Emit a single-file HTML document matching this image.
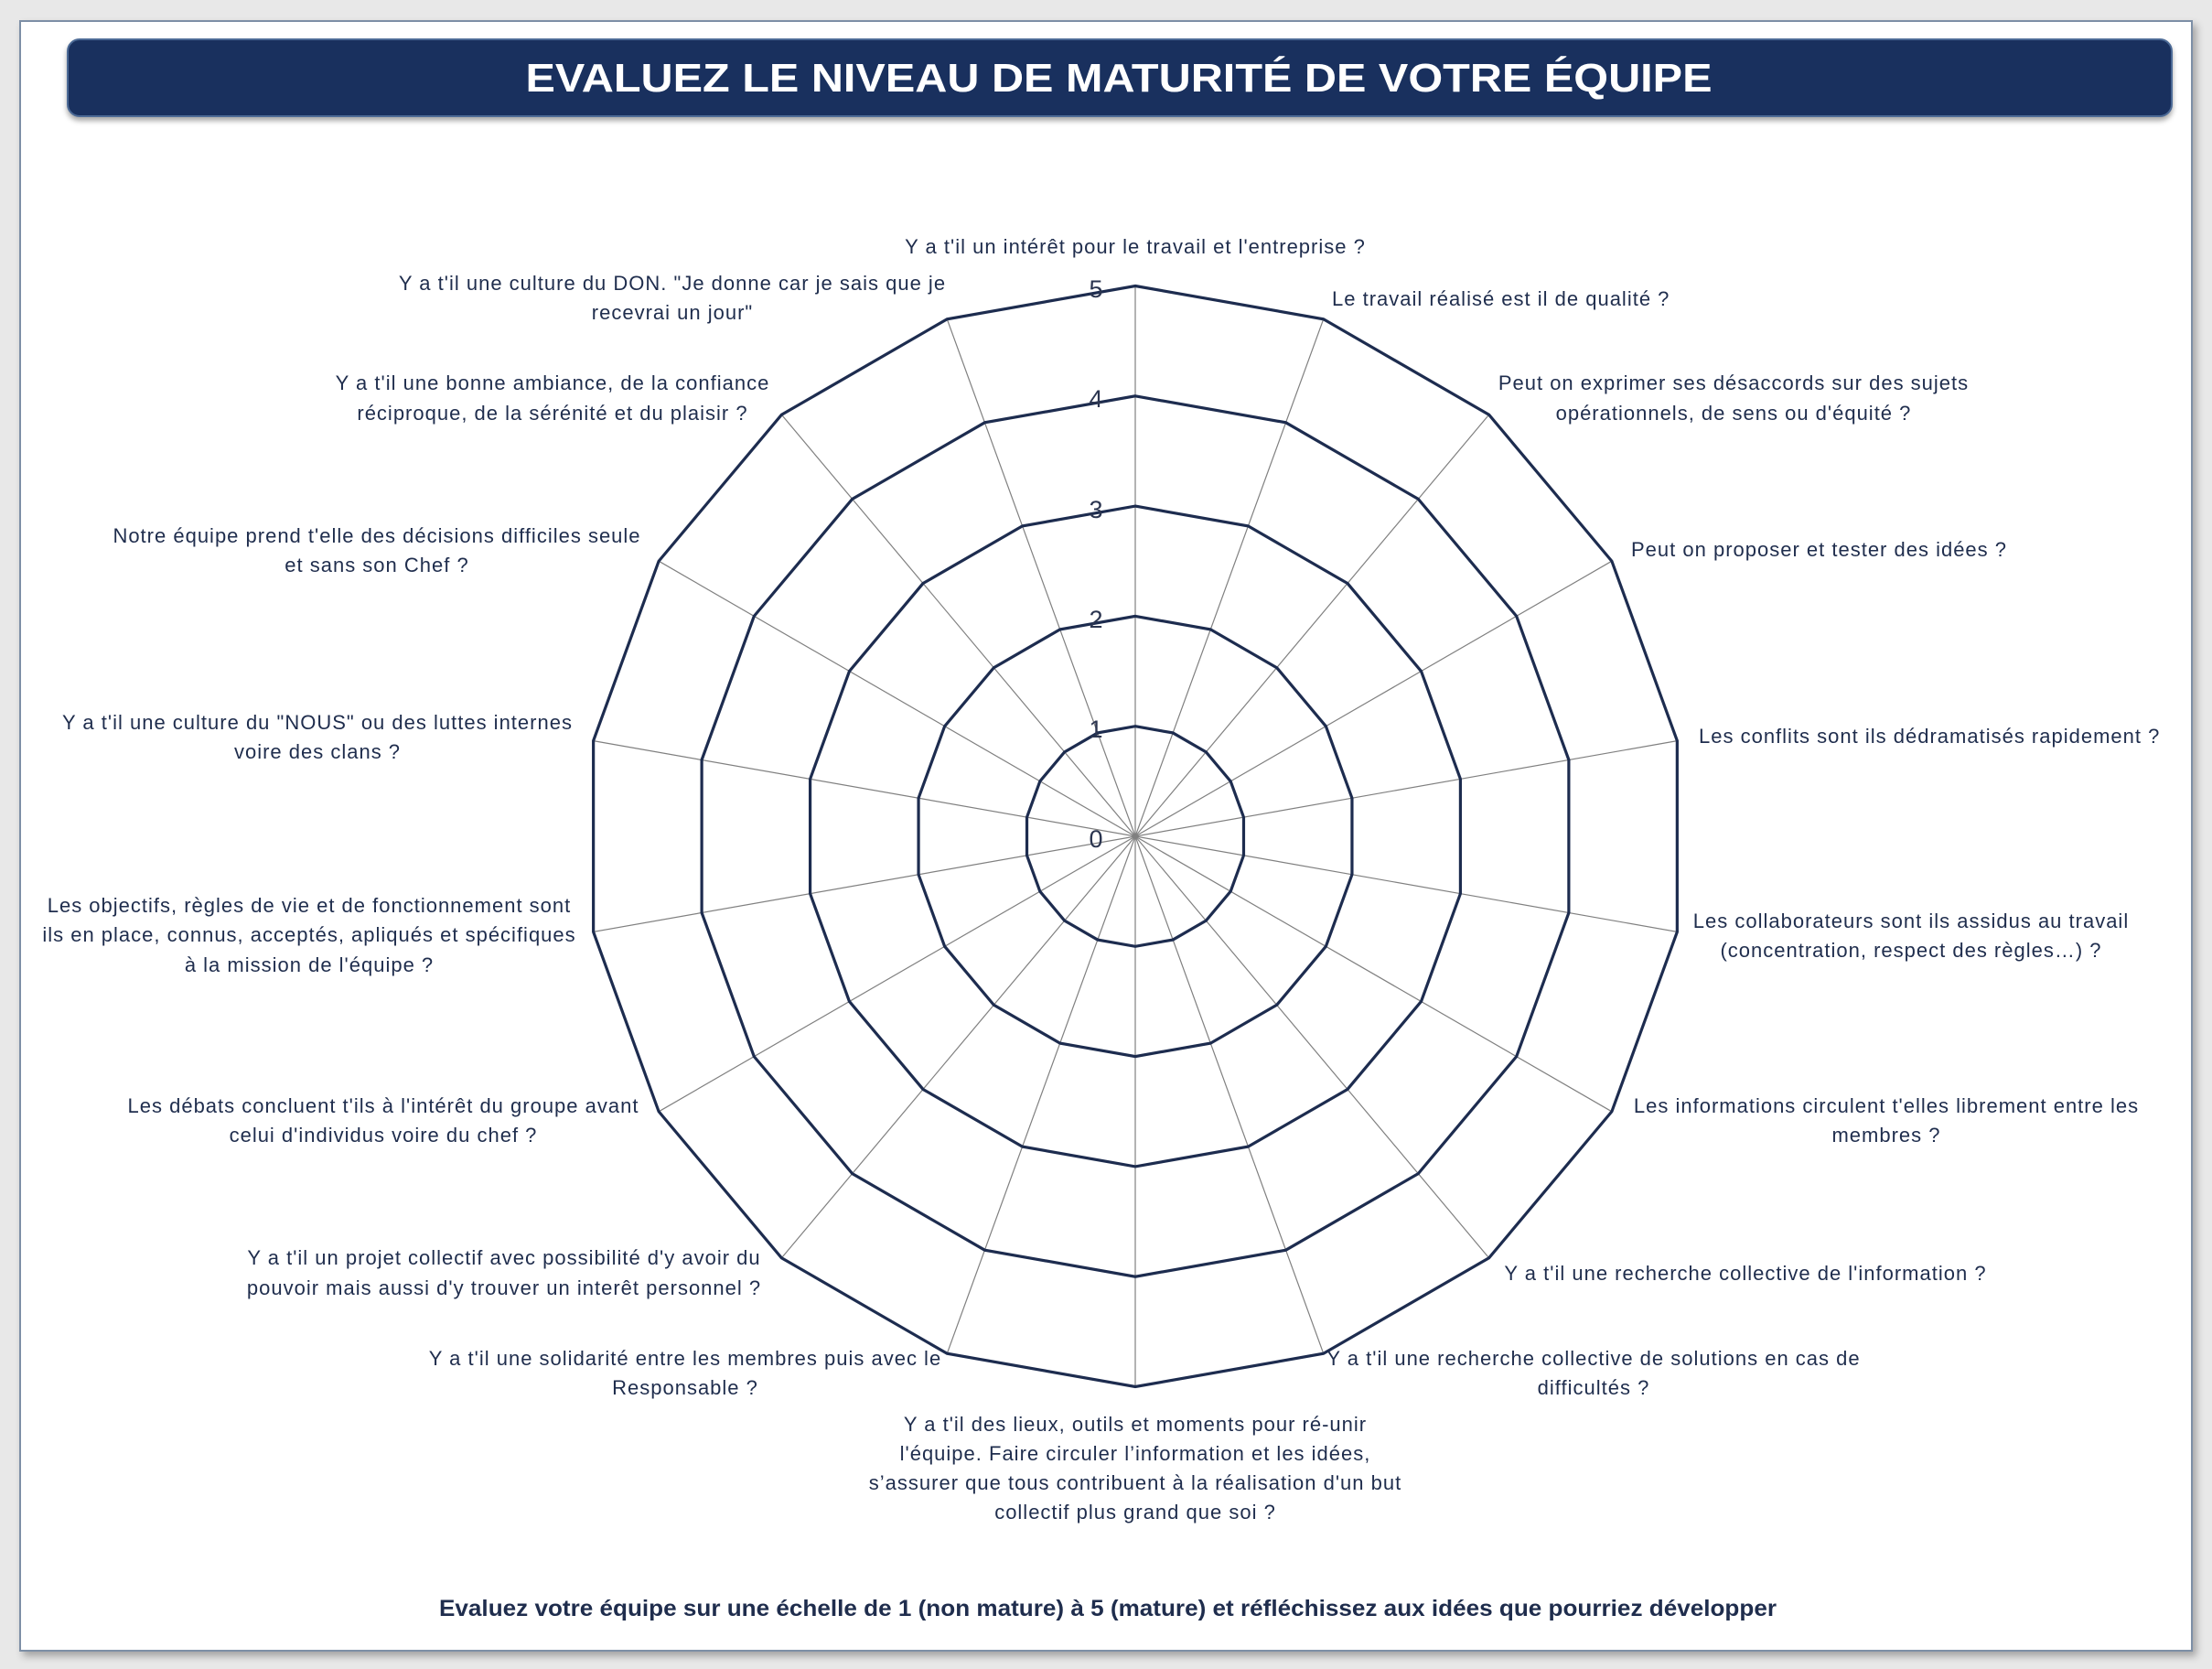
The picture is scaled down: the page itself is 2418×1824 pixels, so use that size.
<!DOCTYPE html>
<html><head><meta charset="utf-8"><style>
html,body{margin:0;padding:0;}
body{width:2418px;height:1824px;background:#e8e8e8;position:relative;overflow:hidden;font-family:"Liberation Sans",sans-serif;}
.page{position:absolute;left:21px;top:22px;width:2376px;height:1783px;background:#fff;border:2px solid #7d8fa6;box-sizing:border-box;box-shadow:4px 5px 8px rgba(0,0,0,0.3);}
.bar{position:absolute;left:73px;top:42px;width:2302px;height:86px;background:#19305e;border-radius:14px;box-shadow:0 4px 6px rgba(0,0,0,0.35);border:2px solid #4c6a96;box-sizing:border-box;}
svg{position:absolute;left:0;top:0;}
</style></head><body>
<div class="page"></div>
<div class="bar"></div>
<svg width="2418" height="1824" viewBox="0 0 2418 1824">
<defs>
<polygon id="p" points="0,-1 .342,-.9397 .6428,-.766 .866,-.5 .9848,-.1736 .9848,.1736 .866,.5 .6428,.766 .342,.9397 0,1 -.342,.9397 -.6428,.766 -.866,.5 -.9848,.1736 -.9848,-.1736 -.866,-.5 -.6428,-.766 -.342,-.9397" fill="none" stroke="#1d2c4f" stroke-width="3.2" vector-effect="non-scaling-stroke" stroke-linejoin="miter"/>
</defs>
<text x="1223" y="100" fill="#fff" font-weight="bold" font-size="44" text-anchor="middle" textLength="1297" lengthAdjust="spacingAndGlyphs">EVALUEZ LE NIVEAU DE MATURITÉ DE VOTRE ÉQUIPE</text>
<g transform="translate(1241,914)">
<g stroke="#808080" stroke-width="1.2">
<line x1="0" y1="-601.5" x2="0" y2="601.5"/>
<line x1="205.7" y1="-565.2" x2="-205.7" y2="565.2"/>
<line x1="386.6" y1="-460.7" x2="-386.6" y2="460.7"/>
<line x1="520.9" y1="-300.8" x2="-520.9" y2="300.8"/>
<line x1="592.4" y1="-104.4" x2="-592.4" y2="104.4"/>
<line x1="592.4" y1="104.4" x2="-592.4" y2="-104.4"/>
<line x1="520.9" y1="300.8" x2="-520.9" y2="-300.8"/>
<line x1="386.6" y1="460.7" x2="-386.6" y2="-460.7"/>
<line x1="205.7" y1="565.2" x2="-205.7" y2="-565.2"/>
</g>
<use href="#p" transform="scale(120.3)"/>
<use href="#p" transform="scale(240.6)"/>
<use href="#p" transform="scale(360.9)"/>
<use href="#p" transform="scale(481.2)"/>
<use href="#p" transform="scale(601.5)"/>
<g fill="#2b3550" font-size="27" text-anchor="middle">
<text x="-43" y="12">0</text>
<text x="-43" y="-108">1</text>
<text x="-43" y="-228">2</text>
<text x="-43" y="-348">3</text>
<text x="-43" y="-469">4</text>
<text x="-43" y="-589">5</text>
</g>
</g>
<g fill="#1f2d4d" font-size="22" letter-spacing="1" text-anchor="middle">
<text x="1241" y="277">Y a t'il un intérêt pour le travail et l'entreprise ?</text>
<text x="1456" y="334" text-anchor="start">Le travail réalisé est il de qualité ?</text>
<text x="1895" y="426">Peut on exprimer ses désaccords sur des sujets</text>
<text x="1895" y="459">opérationnels, de sens ou d'équité ?</text>
<text x="1783" y="608" text-anchor="start">Peut on proposer et tester des idées ?</text>
<text x="1857" y="812" text-anchor="start">Les conflits sont ils dédramatisés rapidement ?</text>
<text x="2089" y="1014">Les collaborateurs sont ils assidus au travail</text>
<text x="2089" y="1046">(concentration, respect des règles…) ?</text>
<text x="2062" y="1216">Les informations circulent t'elles librement entre les</text>
<text x="2062" y="1248">membres ?</text>
<text x="1908" y="1399">Y a t'il une recherche collective de l'information ?</text>
<text x="1742" y="1492">Y a t'il une recherche collective de solutions en cas de</text>
<text x="1742" y="1524">difficultés ?</text>
<text x="1241" y="1564">Y a t'il des lieux, outils et moments pour ré-unir</text>
<text x="1241" y="1596">l'équipe. Faire circuler l’information et les idées,</text>
<text x="1241" y="1628">s’assurer que tous contribuent à la réalisation d'un but</text>
<text x="1241" y="1660">collectif plus grand que soi ?</text>
<text x="749" y="1492">Y a t'il une solidarité entre les membres puis avec le</text>
<text x="749" y="1524">Responsable ?</text>
<text x="551" y="1382">Y a t'il un projet collectif avec possibilité d'y avoir du</text>
<text x="551" y="1415">pouvoir mais aussi  d'y trouver un interêt personnel  ?</text>
<text x="419" y="1216">Les débats concluent t'ils à l'intérêt du groupe avant</text>
<text x="419" y="1248">celui d'individus voire du chef ?</text>
<text x="338" y="997">Les objectifs, règles de vie et de fonctionnement sont</text>
<text x="338" y="1029">ils  en place, connus, acceptés, apliqués et spécifiques</text>
<text x="338" y="1062">à la mission de l'équipe  ?</text>
<text x="347" y="797">Y a t'il une culture du "NOUS" ou des luttes internes</text>
<text x="347" y="829">voire des clans ?</text>
<text x="412" y="593">Notre équipe prend t'elle des décisions difficiles seule</text>
<text x="412" y="625">et sans son Chef ?</text>
<text x="604" y="426">Y a t'il une bonne ambiance, de la confiance</text>
<text x="604" y="459">réciproque, de la sérénité et du plaisir ?</text>
<text x="735" y="317">Y a t'il une culture du DON. "Je donne car je sais que je</text>
<text x="735" y="349">recevrai un jour"</text>
</g>
<text x="1211" y="1766" fill="#1f2d4d" font-size="25" font-weight="bold" text-anchor="middle" textLength="1462" lengthAdjust="spacingAndGlyphs">Evaluez votre équipe sur une échelle de 1 (non mature) à 5 (mature) et réfléchissez aux idées que pourriez développer</text>
</svg>
</body></html>
